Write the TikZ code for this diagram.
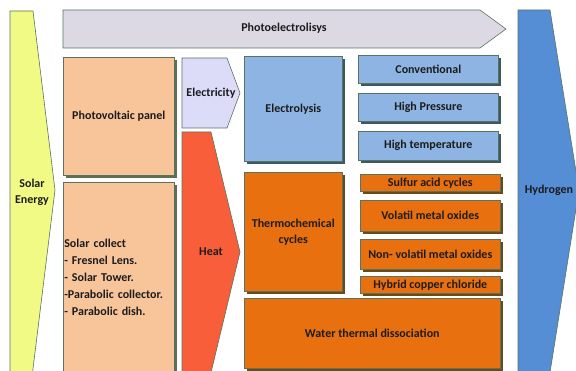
\documentclass[tikz,border=0pt]{standalone}
\usepackage{fontspec}
\setmainfont{Carlito}
\usetikzlibrary{shadows}
\definecolor{edgec}{HTML}{58735F}
\definecolor{inkc}{HTML}{1C1C1C}
\definecolor{sunf}{HTML}{F1FA84}
\definecolor{photof}{HTML}{DDD9E4}
\definecolor{peachf}{HTML}{F8C59B}
\definecolor{peachs}{HTML}{5E6D58}
\definecolor{elecf}{HTML}{DCDCF8}
\definecolor{heatf}{HTML}{F95E3A}
\definecolor{bluef}{HTML}{8EB4E3}
\definecolor{blues}{HTML}{3D5865}
\definecolor{orangef}{HTML}{E8700E}
\definecolor{oranges}{HTML}{694B18}
\definecolor{hydrof}{HTML}{558ED5}
\newcommand{\lbl}{\fontsize{12}{16}\selectfont\bfseries}
\begin{document}
\begin{tikzpicture}[x=1pt, y=-1pt,
  card/.style={draw=edgec, line width=0.6pt, anchor=north west, inner sep=1pt,
    align=center, text=inkc, font=\lbl},
  bluecard/.style={card, fill=bluef,
    drop shadow={shadow xshift=2.5pt, shadow yshift=-2.5pt, fill=blues, opacity=1}},
  orangecard/.style={card, fill=orangef,
    drop shadow={shadow xshift=2.5pt, shadow yshift=-2.5pt, fill=oranges, opacity=1}},
  peachcard/.style={card, fill=peachf,
    drop shadow={shadow xshift=2.5pt, shadow yshift=-2.5pt, fill=peachs, opacity=1}},
  band/.style={draw=edgec, line width=0.6pt},
  note/.style={text=inkc, font=\lbl, align=center}
]
\useasboundingbox (0,0) rectangle (576,371);
\clip (0,0) rectangle (576,371);

% flows
\draw[band, fill=sunf] (10,11) -- (33,11) -- (55,190) -- (31,385) -- (10,385) -- cycle;
\draw[band, fill=photof] (63,10) -- (480,10) -- (506,29) -- (480,48) -- (63,48) -- cycle;
\draw[band, fill=elecf] (182,58) -- (227,58) -- (240,93) -- (227,128) -- (182,128) -- cycle;
\draw[band, fill=heatf] (182,132) -- (211,132) -- (240,252) -- (208,385) -- (182,385) -- cycle;
\draw[band, fill=hydrof] (518,10) -- (550,10) -- (579,190) -- (548,385) -- (518,385) -- cycle;

\node[note] (solar) at (32,192) {Solar\\Energy};
\node[note] (photo) at (284,28) {Photoelectrolisys};
\node[note] (elec) at (211,93) {Electricity};
\node[note] (heat) at (211,252) {Heat};
\node[note] (hydro) at (549,190) {Hydrogen};

% sources
\node[peachcard, minimum width=111pt, minimum height=118pt] (pv) at (63,57) {Photovoltaic panel};
\node[peachcard, minimum width=111pt, minimum height=190pt, text width=109pt, align=left, font=\fontsize{12}{17}\selectfont\bfseries]
  (collect) at (63,182) {Solar collect\\- Fresnel Lens.\\- Solar Tower.\\-Parabolic collector.\\- Parabolic dish.};

% processes
\node[bluecard, minimum width=98pt, minimum height=105pt] (lysis) at (244,56) {Electrolysis};
\node[orangecard, minimum width=98pt, minimum height=119pt] (thermo) at (244,172) {Thermochemical\\cycles};
\node[orangecard, minimum width=256pt, minimum height=70pt] (water) at (244,298) {Water thermal dissociation};

\foreach \nm/\y/\h/\txt in {conv/55/28/Conventional, hipres/93/28/High Pressure, hitemp/131/29/High temperature} {
  \node[bluecard, minimum width=140pt, minimum height=\h pt] (\nm) at (358,\y) {\txt};
}
\foreach \nm/\y/\h/\txt in {sulfur/174/17/Sulfur acid cycles, volat/200/31/Volatil metal oxides,
    nonvol/239/30/Non- volatil metal oxides, hybrid/276/17/Hybrid copper chloride} {
  \node[orangecard, minimum width=140pt, minimum height=\h pt] (\nm) at (360,\y) {\txt};
}
\end{tikzpicture}
\end{document}
